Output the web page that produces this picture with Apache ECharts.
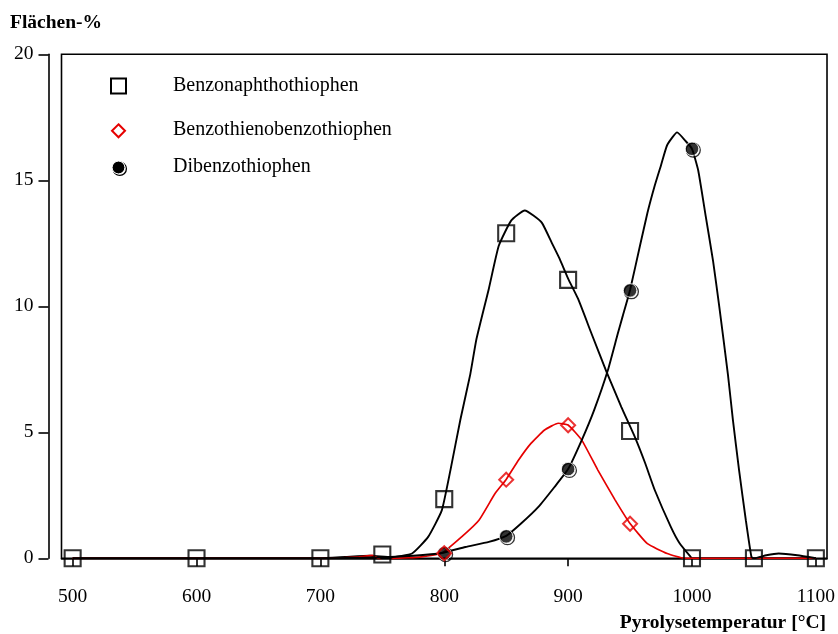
<!DOCTYPE html>
<html>
<head>
<meta charset="utf-8">
<script src="https://cdn.jsdelivr.net/npm/echarts@6/dist/echarts.min.js"></script>
<style>html,body{margin:0;padding:0;background:#fff}#c{width:838px;height:634px}</style>
</head>
<body>
<div id="c"></div>
<script>
// ---- data ----
var xTicks = [500, 600, 700, 800, 900, 1000, 1100];
var yTicks = [0, 5, 10, 15, 20];
var seriesNames = ['Benzonaphthothiophen', 'Benzothienobenzothiophen', 'Dibenzothiophen'];

// measured points (temperature, area-%)
var bntX = [500, 600, 700, 750, 800, 850, 900, 950, 1000, 1050, 1100];
var bntY = [0, 0, 0, 0.15, 2.35, 12.9, 11.05, 5.05, 0, 0, 0];
var btbtX = [800, 850, 900, 950];
var btbtY = [0.2, 3.12, 5.28, 1.37];
var dbtX = [800, 850, 900, 950, 1000];
var dbtY = [0.2, 0.87, 3.54, 10.63, 16.25];

// fitted curves [temperature, area-%]
var bntCurve = [[500,0],[600,0],[700,0],[720,0.05],[740,0.1],[757,0.05],[774,0.19],[787,0.85],[798,1.9],[805,3.5],[813,5.5],[821,7.3],[826,8.7],[836,10.7],[844,12.4],[854,13.4],[865,13.8],[872,13.6],[879,13.3],[887,12.5],[893,11.9],[900,11.1],[908,10.3],[919,8.9],[931,7.4],[943,6.0],[954,4.8],[962,3.8],[970,2.7],[983,1.24],[990,0.6],[999,0.05],[1000,0],[1050,0],[1100,0]];
var btbtCurve = [[500,0],[700,0],[730,0.05],[742,0.12],[752,-0.15],[760,0],[780,0.05],[798,0.21],[814,0.85],[828,1.51],[841,2.57],[850,3.13],[860,3.9],[870,4.56],[881,5.09],[892,5.36],[900,5.29],[911,4.69],[924,3.5],[938,2.31],[950,1.38],[964,0.58],[980,0.19],[994,0],[1100,0]];
var dbtCurve = [[500,0],[700,0],[747,0.03],[775,0.1],[798,0.21],[817,0.45],[836,0.65],[850,0.89],[862,1.38],[876,2.04],[889,2.83],[900,3.54],[911,4.69],[921,5.88],[932,7.45],[940,8.9],[944,9.6],[950,10.65],[958,12.4],[964,13.7],[970,14.8],[975,15.6],[980,16.4],[988,16.9],[995,16.55],[1000,16.25],[1005,15.4],[1011,13.6],[1017,11.8],[1022,10.0],[1029,7.3],[1033,5.5],[1038,3.5],[1043.5,1.5],[1048,0.05],[1050,0],[1060,0.12],[1070,0.19],[1085,0.12],[1100,0]];

function pairs(xs, ys) { return xs.map(function (x, i) { return [x, ys[i]]; }); }

var FONT = '"Liberation Serif", "Times New Roman", serif';
var RED = '#e60000';
var FS = 19.5;
var LFS = 20;

var chart = echarts.init(document.getElementById('c'), null, {renderer: 'canvas'});
var option = {
  animation: false,
  backgroundColor: '#fff',
  textStyle: {fontFamily: FONT},
  grid: {left: 61.5, right: 9.7, top: 54.3, bottom: 75.7, show: true, borderColor: '#000', borderWidth: 1.6, backgroundColor: 'transparent'},
  xAxis: {
    type: 'value', min: 491, max: 1109, offset: 12.5,
    axisLine: {show: true, lineStyle: {color: '#000', width: 1.6}},
    axisTick: {show: true, length: 8, inside: false, customValues: xTicks, lineStyle: {color: '#000', width: 1.6}},
    axisLabel: {show: true, customValues: xTicks, margin: 16.5, color: '#000', fontSize: FS, fontFamily: FONT,
      formatter: function (v) { return String(v); }},
    splitLine: {show: false}
  },
  yAxis: {
    type: 'value', min: 0, max: 20, interval: 5, offset: 13,
    axisLine: {show: true, lineStyle: {color: '#000', width: 1.6}},
    axisTick: {show: true, length: 10, inside: false, lineStyle: {color: '#000', width: 1.6}},
    axisLabel: {show: true, margin: 15, color: '#000', fontSize: FS, fontFamily: FONT,
      formatter: function (v) { return String(v); }},
    splitLine: {show: false}
  },
  graphic: [
    {type: 'text', left: 10, top: 13, style: {text: 'Flächen-%', font: 'bold ' + FS + 'px ' + FONT, fill: '#000'}},
    {type: 'text', right: 12, top: 613, style: {text: 'Pyrolysetemperatur [°C]', font: 'bold ' + FS + 'px ' + FONT, fill: '#000'}},
    // legend
    {type: 'rect', shape: {x: 111, y: 78.5, width: 15, height: 15}, style: {fill: 'none', stroke: '#000', lineWidth: 2}},
    {type: 'polygon', shape: {points: [[118.5, 124.3], [125, 130.8], [118.5, 137.3], [112, 130.8]]}, style: {fill: 'none', stroke: RED, lineWidth: 2}},
    {type: 'circle', shape: {cx: 119.8, cy: 168.8, r: 6.6}, style: {fill: 'none', stroke: '#000', lineWidth: 1.3}},
    {type: 'circle', shape: {cx: 118.5, cy: 167.5, r: 6.4}, style: {fill: '#000', stroke: '#fff', lineWidth: 1}},
    {type: 'text', left: 173, top: 76, style: {text: seriesNames[0], font: LFS + 'px ' + FONT, fill: '#000'}},
    {type: 'text', left: 173, top: 120, style: {text: seriesNames[1], font: LFS + 'px ' + FONT, fill: '#000'}},
    {type: 'text', left: 173, top: 157, style: {text: seriesNames[2], font: LFS + 'px ' + FONT, fill: '#000'}}
  ],
  series: [
    {name: seriesNames[0] + ' fit', type: 'line', data: bntCurve, showSymbol: false, symbol: 'none', smooth: 0.15, lineStyle: {color: '#000', width: 1.9}, z: 2},
    {name: seriesNames[1] + ' fit', type: 'line', data: btbtCurve, showSymbol: false, symbol: 'none', smooth: 0.15, lineStyle: {color: RED, width: 1.7}, z: 2},
    {name: seriesNames[2] + ' fit', type: 'line', data: dbtCurve, showSymbol: false, symbol: 'none', smooth: 0.15, lineStyle: {color: '#000', width: 1.9}, z: 2},
    {name: seriesNames[0], type: 'scatter', data: pairs(bntX, bntY), symbol: 'rect', symbolSize: 16, itemStyle: {color: 'rgba(0,0,0,0)', borderColor: '#000', borderWidth: 2.1}, z: 4},
    {name: seriesNames[2] + ' ring', type: 'scatter', data: pairs(dbtX, dbtY), symbol: 'circle', symbolSize: 14, symbolOffset: [1.3, 1.3], itemStyle: {color: 'rgba(0,0,0,0)', borderColor: '#000', borderWidth: 1.3}, z: 4},
    {name: seriesNames[2], type: 'scatter', data: pairs(dbtX, dbtY), symbol: 'circle', symbolSize: 13.5, itemStyle: {color: '#000', borderColor: '#fff', borderWidth: 1}, z: 5},
    {name: seriesNames[1], type: 'scatter', data: pairs(btbtX, btbtY), symbol: 'diamond', symbolSize: 14, itemStyle: {color: 'rgba(0,0,0,0)', borderColor: RED, borderWidth: 2}, z: 6}
  ]
};
chart.setOption(option);
</script>
</body>
</html>
